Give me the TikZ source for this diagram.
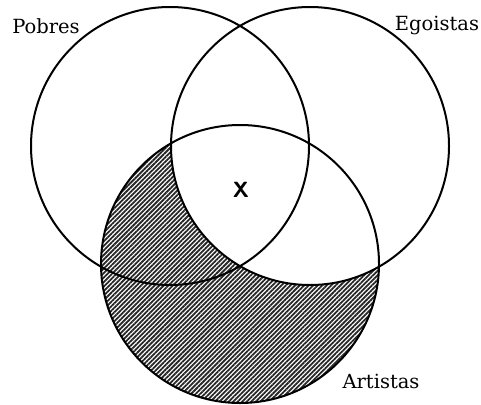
\documentclass[tikz,border=0pt]{standalone}
\usepackage{fontspec}
\setmainfont{DejaVu Serif}
\usetikzlibrary{patterns.meta}
\tikzset{
  set/.style={draw, circle, line width=2pt, minimum size=278pt, inner sep=0pt},
  setlabel/.style={font=\fontsize{19.5}{21}\selectfont, inner sep=0pt},
  hatch/.style={pattern={Lines[angle=45, distance=3.2pt, line width=1.8pt]}, pattern color=black!85}
}
\begin{document}
\begin{tikzpicture}[x=1pt, y=-1pt]
  \useasboundingbox (0,0) rectangle (481,404);
  \coordinate (cp) at (170,146);
  \coordinate (ce) at (310,146);
  \coordinate (ca) at (240,264);
  % shaded part of Artistas
  \begin{scope}
    \clip (ca) circle[radius=139pt];
    \fill[hatch] (ca) circle[radius=139pt];
    \fill[white] (ce) circle[radius=139pt];
  \end{scope}
  % sets
  \node[set] (pobres) at (cp) {};
  \node[set] (egoistas) at (ce) {};
  \node[set] (artistas) at (ca) {};
  % labels
  \node[setlabel] (lpobres) at (46,26) {Pobres};
  \node[setlabel] (legoistas) at (437,25) {Egoistas};
  \node[setlabel] (lartistas) at (381,381) {Artistas};
  \node[font=\sffamily\bfseries\fontsize{22}{24}\selectfont] (x) at (241,190) {X};
\end{tikzpicture}
\end{document}
